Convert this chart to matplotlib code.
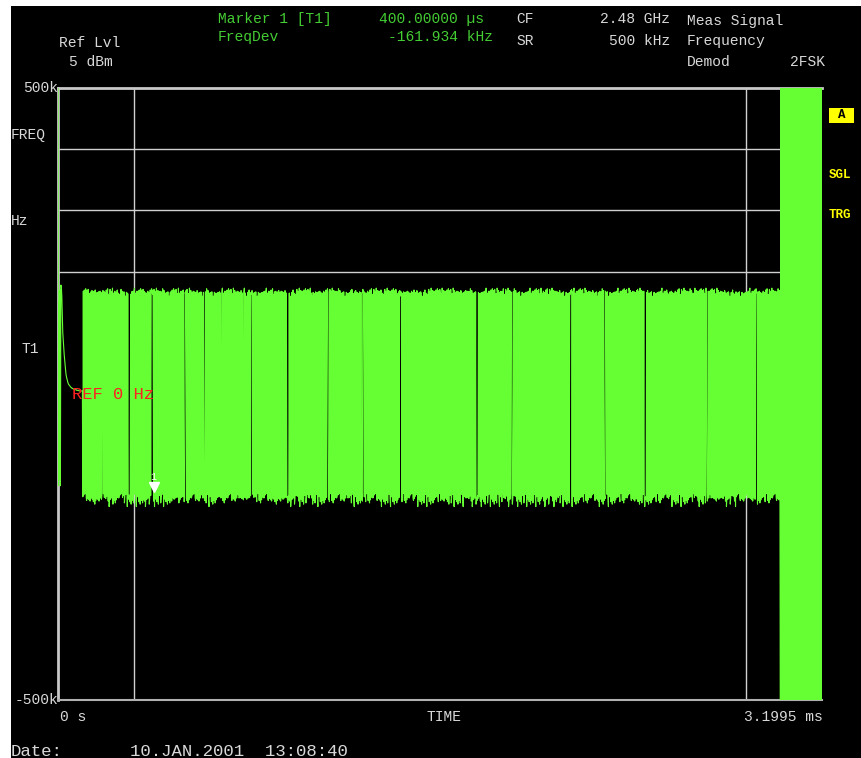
import numpy as np
import matplotlib
matplotlib.use('Agg')
import matplotlib.pyplot as plt
from matplotlib.patches import Rectangle
from matplotlib import transforms

W, H = 861, 758
mono = 'Liberation Mono'

t_end_ms = 3.1995
ylim_khz = (-500, 500)
hgrid_khz = [400, 300, 200]
vgrid_ms = [0.31995, 2.87955]
marker_t_ms = 0.4
marker_val_khz = -161.934

# settling right after the trigger (kHz)
startup_khz = [520, -150, 150, -140, 170, -150, 178, 175, 160, 130, 100, 88, 75, 64,
               55, 45, 38, 31, 27, 24, 21, 18, 16, 15, 14, 13, 12, 11, 10, 10, 9, 9,
               8, 8, 8, 7, 7, 7, 7, 6, 6, 6, 6, 6, 5, 5, 5, 5, 5, 5, 5, 5]
# 2FSK symbol pattern, one bit per sample (hex)
fsk_hex = ("5A5A55AA5A6A5A5A95A5AA5A0A5A5A5AA5A5F5A5"
           "A5A5A55A5AA5A3A5A5A5A5AC5A5A5A5A9A5A5A5A"
           "5A5A6A5AF5A5A5A5A5A55AA5A5A0A5A5A5A5A55A"
           "A5A5A5A5C5A5A5A5A5A55A5A5A3A5A5A5A5AA5A5"
           "A5A5A5F5A5A5A55A5A5A5A5A5A5A96A5A5A5A5A5"
           "5A5A5A0A5A5A5A5A5A5AA5A5C5A5A5A5A5A5A5A5"
           "5A5A5A5A6A5A5A5F5A5A5A5A5A5A5AA5A3A5A5A5"
           "A5A5A5A5A55A5A0A5A5A5A5A5A95A5A5A5A5A5A5"
           "5A5A5AC5A5A5A5A5A5A5A55A5A5A5A5AF5A5A5A5"
           "A5A5A")
hi_khz = [166, 168, 164, 170, 167, 165, 172, 166, 163, 169, 167, 171, 165, 168,
          164, 166, 173, 167, 165, 169, 160, 168, 166]
lo_khz = [-168, -172, -165, -176, -170, -163, -180, -169, -174, -166, -171, -178,
          -167, -173, -164, -175, -169, -184, -170]
# end of burst, analyzer overdriven
tail_hex = "5A5A5A5A5A5A5A5A5A5A5A"
tail_levels_khz = [-620, 620]

bits = ''.join(format(int(c, 16), '04b') for c in fsk_hex)
fsk = [hi_khz[i % len(hi_khz)] if b == '1' else lo_khz[i % len(lo_khz)]
       for i, b in enumerate(bits)]
tbits = ''.join(format(int(c, 16), '04b') for c in tail_hex)
tail = [tail_levels_khz[int(b)] for b in tbits]
values = np.array(startup_khz + fsk + tail, dtype=float)
t = np.linspace(0, t_end_ms, len(values))

fig = plt.figure(figsize=(W / 100, H / 100), dpi=100, facecolor='white')
fig.add_artist(Rectangle((11 / W, 0), 850 / W, 752 / H, transform=fig.transFigure,
                         facecolor='black', edgecolor='none', zorder=0))

ax = fig.add_axes([58 / W, 1 - 700 / H, 764 / W, 612 / H])
ax.set_facecolor('black')
ax.set_xlim(0, t_end_ms)
ax.set_ylim(*ylim_khz)
ax.set_xticks([])
ax.set_yticks([])
for s in ['top', 'left']:
    ax.spines[s].set_color('#c8c8c8')
    ax.spines[s].set_linewidth(2)
ax.spines['bottom'].set_color('#b0b0b0')
ax.spines['bottom'].set_linewidth(1.5)
ax.spines['right'].set_visible(False)

for g in hgrid_khz:
    ax.axhline(g, color='#d0d0d0', lw=1, zorder=1)
for g in vgrid_ms:
    ax.axvline(g, color='#d0d0d0', lw=1, zorder=1)

ax.plot(t, values, color='#66ff33', lw=0.8, zorder=3)

ax.text(0, 0, 'REF 0 Hz', color='#ff2020', fontsize=12.3, family=mono,
        va='center', ha='left', zorder=4,
        transform=transforms.offset_copy(ax.transData, fig=fig, x=14, y=0, units='dots'))

off = transforms.offset_copy(ax.transData, fig=fig, x=0, y=6, units='dots')
ax.plot([marker_t_ms], [marker_val_khz], marker='v', color='white', ms=7,
        transform=off, zorder=5)
ax.text(marker_t_ms, marker_val_khz, '1', color='white', fontsize=7, family=mono,
        ha='center', va='bottom', zorder=5,
        transform=transforms.offset_copy(ax.transData, fig=fig, x=0, y=11, units='dots'))


def ftext(x, y, s, color='#d8d8d8', ha='left', size=10.5, **kw):
    fig.text(x / W, 1 - y / H, s, color=color, ha=ha, va='center',
             fontsize=size, family=mono, **kw)


green = '#44cc33'
ftext(218, 19, 'Marker 1 [T1]', green)
ftext(484, 19, '400.00000 µs', green, ha='right')
ftext(218, 37, 'FreqDev', green)
ftext(493, 37, '-161.934 kHz', green, ha='right')
ftext(516, 19, 'CF')
ftext(670, 19, '2.48 GHz', ha='right')
ftext(516, 41, 'SR')
ftext(670, 41, '500 kHz', ha='right')
ftext(687, 21, 'Meas Signal')
ftext(687, 41, 'Frequency')
ftext(687, 62, 'Demod')
ftext(825, 62, '2FSK', ha='right')
ftext(59, 43, 'Ref Lvl')
ftext(69, 62, '5 dBm')
ftext(58, 88, '500k', ha='right')
ftext(58, 700, '-500k', ha='right')
ftext(11, 135, 'FREQ')
ftext(11, 221, 'Hz')
ftext(22, 349, 'T1')
ftext(60, 717, '0 s')
ftext(444, 717, 'TIME', ha='center')
ftext(823, 717, '3.1995 ms', ha='right')
ftext(11, 751, 'Date:', size=12.5)
ftext(130, 751, '10.JAN.2001  13:08:40', size=12.5)

fig.add_artist(Rectangle((829 / W, 1 - 123 / H), 25 / W, 15 / H, transform=fig.transFigure,
                         facecolor='#ffff00', edgecolor='none'))
ftext(841.5, 115.5, 'A', color='black', ha='center', size=9, weight='bold')
ftext(829, 175, 'SGL', color='#ffff00', size=9, weight='bold')
ftext(829, 215, 'TRG', color='#ffff00', size=9, weight='bold')

fig.savefig('out.png', dpi=100, facecolor='white')
